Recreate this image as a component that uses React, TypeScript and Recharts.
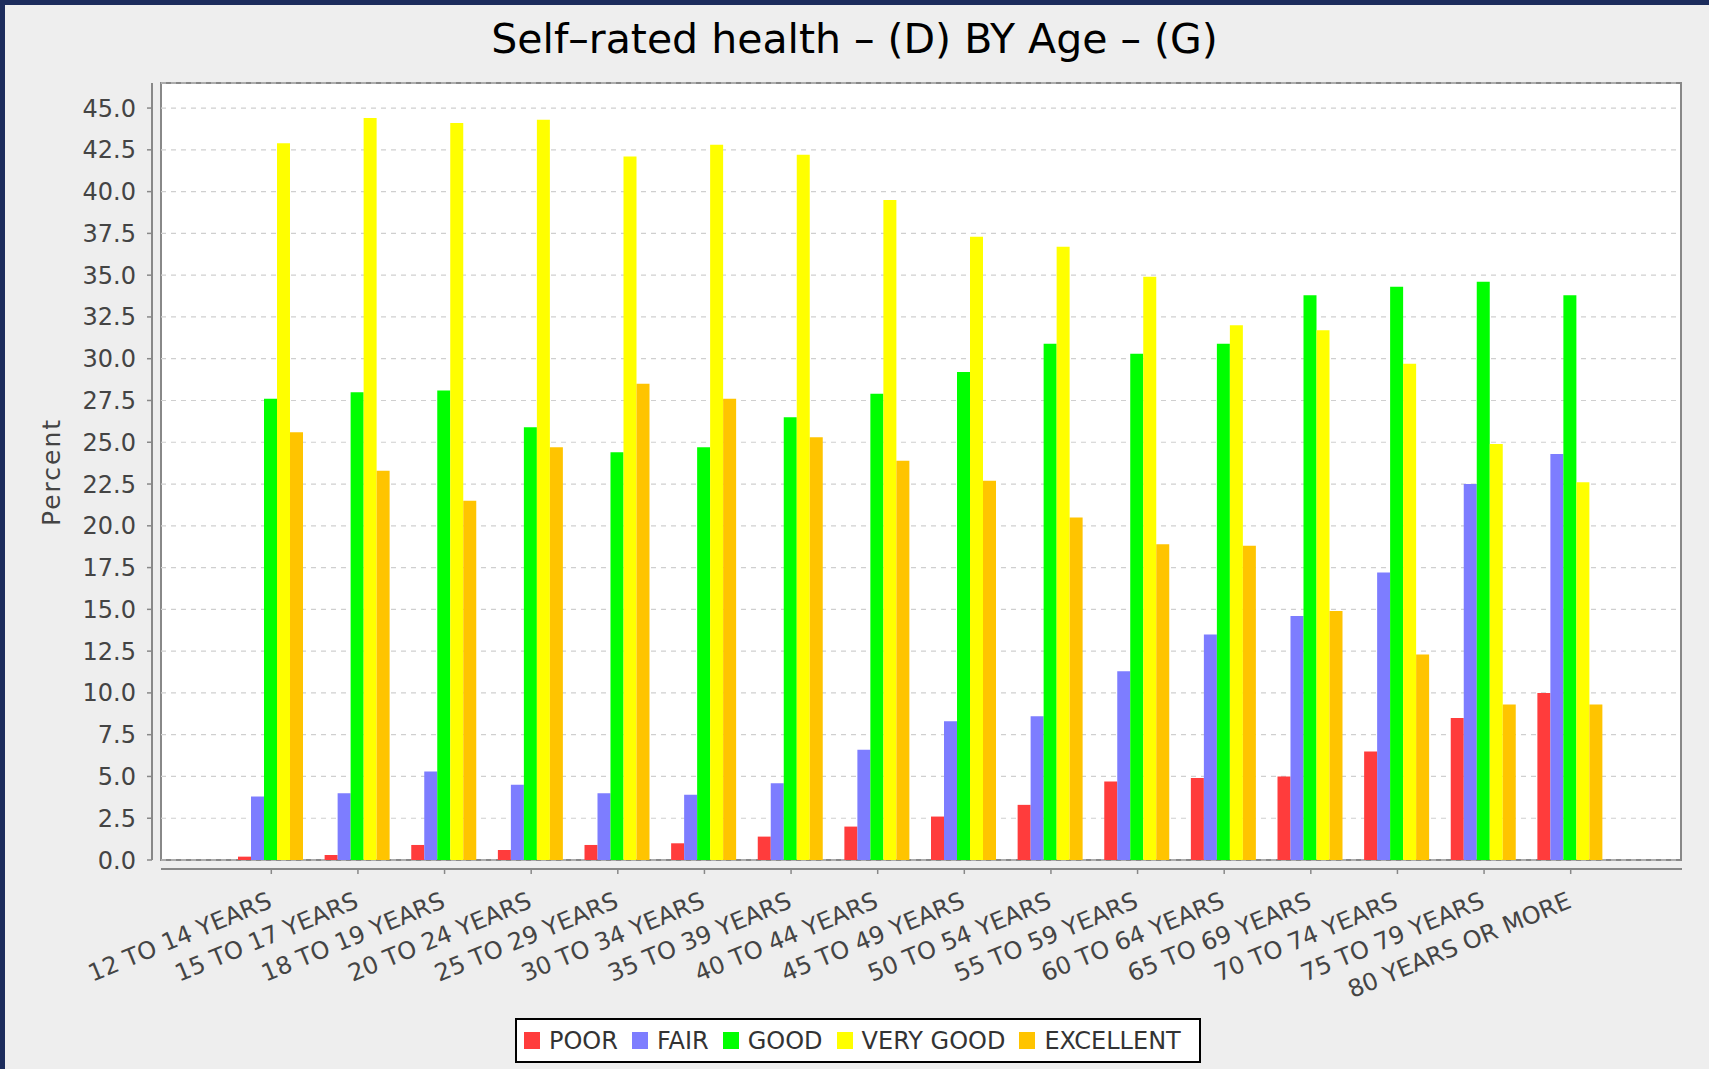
import { BarChart, Bar, XAxis, YAxis, CartesianGrid } from 'recharts';

const ageGroups = [
  '12 TO 14 YEARS', '15 TO 17 YEARS', '18 TO 19 YEARS', '20 TO 24 YEARS',
  '25 TO 29 YEARS', '30 TO 34 YEARS', '35 TO 39 YEARS', '40 TO 44 YEARS',
  '45 TO 49 YEARS', '50 TO 54 YEARS', '55 TO 59 YEARS', '60 TO 64 YEARS',
  '65 TO 69 YEARS', '70 TO 74 YEARS', '75 TO 79 YEARS', '80 YEARS OR MORE',
];

const poor = [0.2, 0.3, 0.9, 0.6, 0.9, 1.0, 1.4, 2.0, 2.6, 3.3, 4.7, 4.9, 5.0, 6.5, 8.5, 10.0];
const fair = [3.8, 4.0, 5.3, 4.5, 4.0, 3.9, 4.6, 6.6, 8.3, 8.6, 11.3, 13.5, 14.6, 17.2, 22.5, 24.3];
const good = [27.6, 28.0, 28.1, 25.9, 24.4, 24.7, 26.5, 27.9, 29.2, 30.9, 30.3, 30.9, 33.8, 34.3, 34.6, 33.8];
const veryGood = [42.9, 44.4, 44.1, 44.3, 42.1, 42.8, 42.2, 39.5, 37.3, 36.7, 34.9, 32.0, 31.7, 29.7, 24.9, 22.6];
const excellent = [25.6, 23.3, 21.5, 24.7, 28.5, 27.6, 25.3, 23.9, 22.7, 20.5, 18.9, 18.8, 14.9, 12.3, 9.3, 9.3];

const seriesKeys = ['poor', 'fair', 'good', 'veryGood', 'excellent'];
const seriesNames = ['POOR', 'FAIR', 'GOOD', 'VERY GOOD', 'EXCELLENT'];
const seriesColors = ['#ff3c3c', '#7d7dff', '#00ff00', '#ffff00', '#ffc400'];

const yTicks = [0, 2.5, 5, 7.5, 10, 12.5, 15, 17.5, 20, 22.5, 25, 27.5, 30, 32.5, 35, 37.5, 40, 42.5, 45];

const data = ageGroups.map((age, i) => ({
  age,
  poor: poor[i],
  fair: fair[i],
  good: good[i],
  veryGood: veryGood[i],
  excellent: excellent[i],
}));

// layout (px)
const W = 1709;
const H = 1069;
const PLOT_LEFT = 161;
const PLOT_RIGHT = 1681;
const PLOT_TOP = 83;
const PLOT_BOTTOM = 860;
const Y_AXIS_X = 152;
const X_AXIS_Y = 869;
const Y_AXIS_W = 100;
const X_AXIS_H = 180;
const FONT = '"DejaVu Sans", Verdana, sans-serif';
const AXIS_GREY = '#888888';
const TEXT_GREY = '#444444';

function PercentTick(props: any) {
  const { y, payload } = props;
  return (
    <g>
      <line x1={Y_AXIS_X - 5} x2={Y_AXIS_X} y1={y} y2={y} stroke={AXIS_GREY} strokeWidth={1.5} />
      <text x={Y_AXIS_X - 16} y={y} dy={8.5} textAnchor="end" fontSize={24} fontFamily={FONT} fill={TEXT_GREY}>
        {Number(payload.value).toFixed(1)}
      </text>
    </g>
  );
}

function AgeTick(props: any) {
  const { x, payload } = props;
  const tx = x + 2;
  const ty = X_AXIS_Y + 38;
  return (
    <g>
      <line x1={x} x2={x} y1={X_AXIS_Y} y2={X_AXIS_Y + 5} stroke={AXIS_GREY} strokeWidth={1.5} />
      <text
        x={tx}
        y={ty}
        textAnchor="end"
        transform={`rotate(-22.5 ${tx} ${ty})`}
        fontSize={24}
        fontFamily={FONT}
        fill={TEXT_GREY}
      >
        {payload.value}
      </text>
    </g>
  );
}

export default function App() {
  return (
    <div style={{ position: 'absolute', left: 0, top: 0, width: W, height: H, background: '#eeeeee', overflow: 'hidden', fontFamily: FONT }}>
      {/* window frame */}
      <div style={{ position: 'absolute', left: 0, top: 0, width: W, height: 5, background: '#1c2c5c' }} />
      <div style={{ position: 'absolute', left: 0, top: 0, width: 5, height: H, background: '#1c2c5c' }} />

      {/* plot background + outline */}
      <div
        style={{
          position: 'absolute',
          left: PLOT_LEFT - 1,
          top: PLOT_TOP - 1,
          width: PLOT_RIGHT - PLOT_LEFT + 2,
          height: PLOT_BOTTOM - PLOT_TOP + 2,
          boxSizing: 'border-box',
          border: `2px solid ${AXIS_GREY}`,
          background: '#ffffff',
        }}
      />
      {/* separated axis lines */}
      <div style={{ position: 'absolute', left: Y_AXIS_X - 1, top: PLOT_TOP, width: 2, height: PLOT_BOTTOM - PLOT_TOP, background: AXIS_GREY }} />
      <div style={{ position: 'absolute', left: PLOT_LEFT, top: X_AXIS_Y - 1, width: PLOT_RIGHT - PLOT_LEFT + 1, height: 2, background: AXIS_GREY }} />

      {/* title */}
      <div style={{ position: 'absolute', left: 0, top: 16, width: W, textAlign: 'center', fontSize: 41, lineHeight: '46px', color: '#000' }}>
        Self–rated health – (D) BY Age – (G)
      </div>

      {/* y axis label */}
      <div
        style={{
          position: 'absolute',
          left: 51,
          top: (PLOT_TOP + PLOT_BOTTOM) / 2,
          transform: 'translate(-50%, -50%) rotate(-90deg)',
          fontSize: 25,
          letterSpacing: 2,
          color: TEXT_GREY,
          whiteSpace: 'nowrap',
        }}
      >
        Percent
      </div>

      <div style={{ position: 'absolute', left: 0, top: 0 }}>
        <BarChart
          width={W}
          height={H}
          data={data}
          margin={{ top: PLOT_TOP, right: W - PLOT_RIGHT, left: PLOT_LEFT - Y_AXIS_W, bottom: H - PLOT_BOTTOM - X_AXIS_H }}
          barCategoryGap={10}
          barGap={0}
        >
          <CartesianGrid horizontal vertical={false} stroke="#cfcfcf" strokeDasharray="5 5" strokeWidth={1.2} />
          <XAxis
            dataKey="age"
            height={X_AXIS_H}
            interval={0}
            axisLine={false}
            tickLine={false}
            tick={<AgeTick />}
            padding={{ left: 67, right: 67 }}
          />
          <YAxis
            type="number"
            width={Y_AXIS_W}
            domain={[0, 46.5]}
            ticks={yTicks}
            interval={0}
            axisLine={false}
            tickLine={false}
            tick={<PercentTick />}
          />
          {seriesKeys.map((k, i) => (
            <Bar key={k} dataKey={k} name={seriesNames[i]} fill={seriesColors[i]} isAnimationActive={false} />
          ))}
        </BarChart>
      </div>

      {/* legend */}
      <div
        style={{
          position: 'absolute',
          left: 515,
          top: 1018,
          width: 686,
          height: 45,
          boxSizing: 'border-box',
          border: '2px solid #000',
          background: '#ffffff',
          display: 'flex',
          alignItems: 'center',
          justifyContent: 'flex-start',
          paddingLeft: 7,
          gap: 14,
          fontSize: 24,
          color: '#333',
        }}
      >
        {seriesNames.map((name, i) => (
          <div key={name} style={{ display: 'flex', alignItems: 'center', gap: 9 }}>
            <span style={{ display: 'inline-block', width: 16, height: 17, background: seriesColors[i] }} />
            <span>{name}</span>
          </div>
        ))}
      </div>
    </div>
  );
}
